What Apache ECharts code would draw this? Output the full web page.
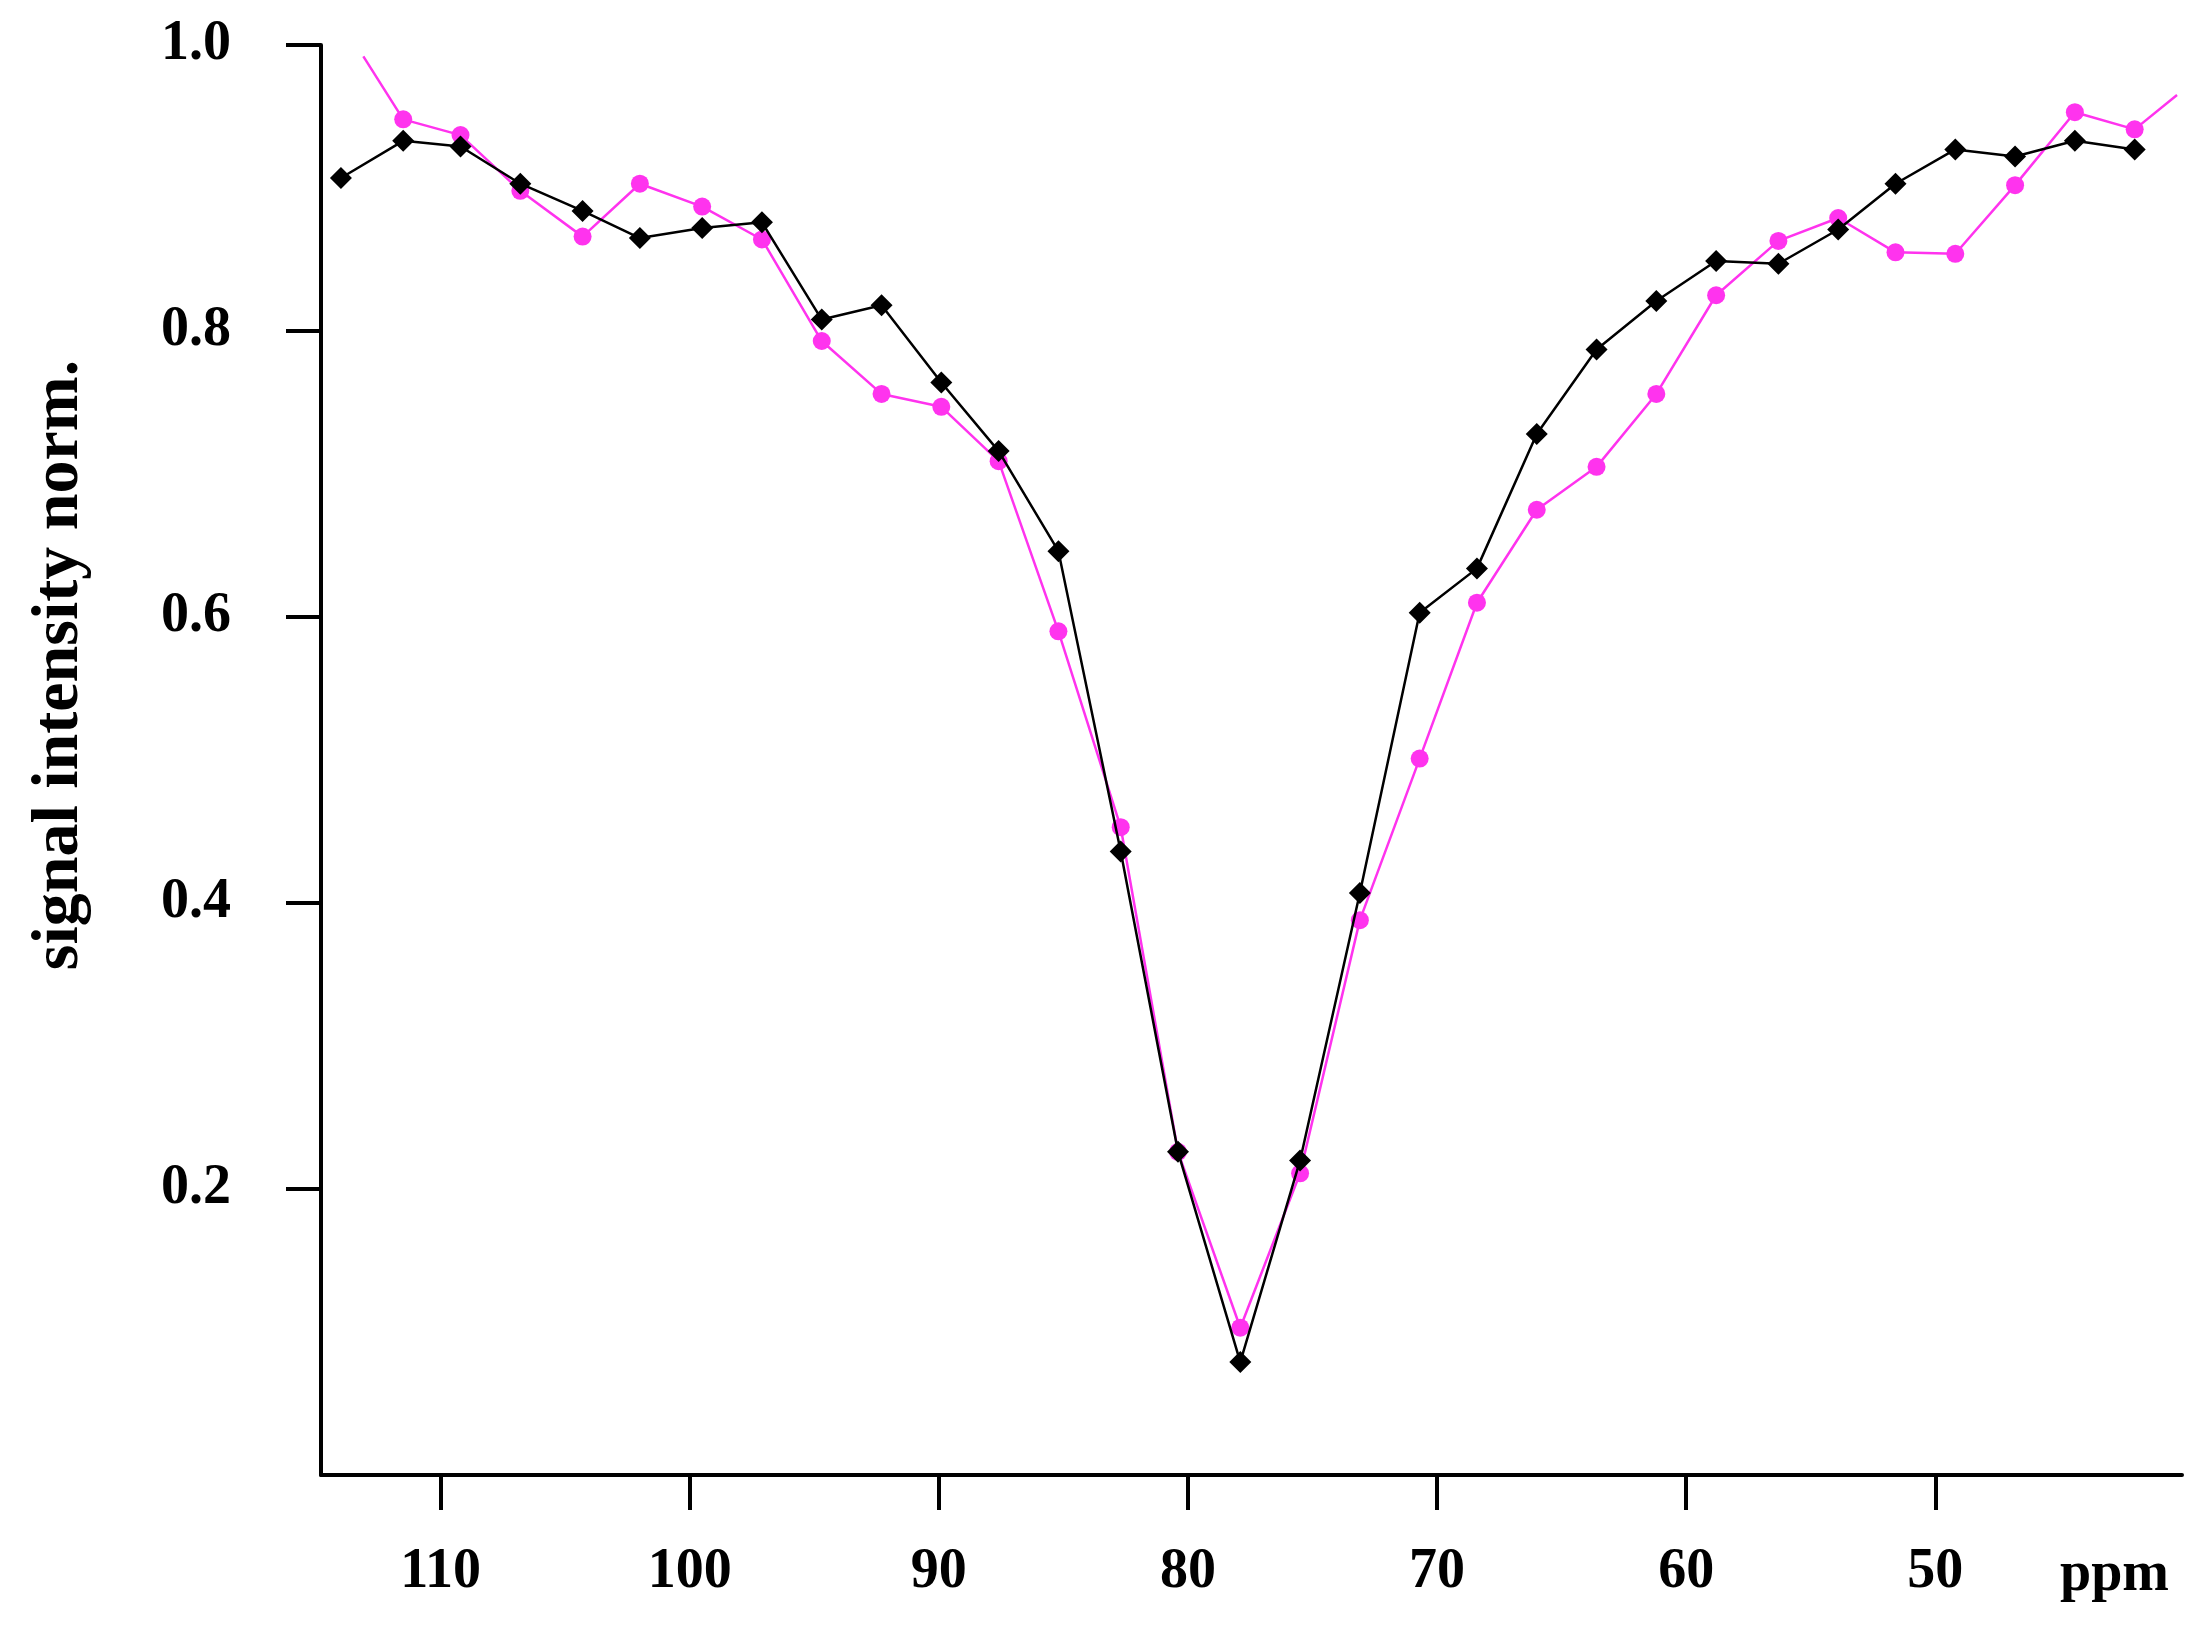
<!DOCTYPE html>
<html><head><meta charset="utf-8">
<script src="https://cdn.jsdelivr.net/npm/echarts@6/dist/echarts.min.js"></script>
<style>html,body{margin:0;padding:0;background:#fff}#c{width:2204px;height:1636px}</style>
</head><body><div id="c"></div>
<script>
const xTicks = [50, 60, 70, 80, 90, 100, 110];
const yTicks = [0.2, 0.4, 0.6, 0.8, 1.0];
const ppmBlack = [114.0,111.5,109.2,106.8,104.3,102.0,99.5,97.1,94.7,92.3,89.9,87.6,85.2,82.7,80.4,77.9,75.5,73.1,70.7,68.4,66.0,63.6,61.2,58.8,56.3,53.9,51.6,49.2,46.8,44.4,42.0];
const intBlack = [0.907,0.933,0.929,0.903,0.884,0.865,0.872,0.876,0.808,0.818,0.764,0.716,0.646,0.436,0.226,0.079,0.220,0.407,0.603,0.634,0.728,0.787,0.821,0.849,0.847,0.871,0.903,0.927,0.922,0.933,0.927];
const ppmMag = [113.1,111.5,109.2,106.8,104.3,102.0,99.5,97.1,94.7,92.3,89.9,87.6,85.2,82.7,80.4,77.9,75.5,73.1,70.7,68.4,66.0,63.6,61.2,58.8,56.3,53.9,51.6,49.2,46.8,44.4,42.0,40.3];
const intMag = [0.992,0.948,0.937,0.898,0.866,0.903,0.887,0.864,0.793,0.756,0.747,0.709,0.590,0.453,0.226,0.103,0.211,0.388,0.501,0.610,0.675,0.705,0.756,0.825,0.863,0.879,0.855,0.854,0.902,0.953,0.941,0.965];

const font = '"Liberation Serif", "DejaVu Serif", serif';
const chart = echarts.init(document.getElementById('c'));
const bl = ppmBlack.map((x,i)=>[x,intBlack[i]]);
const mg = ppmMag.map((x,i)=>({value:[x,intMag[i]], symbolSize:(i===0||i===ppmMag.length-1)?0:18}));
chart.setOption({
  animation:false,
  grid:{left:321,top:45,right:22,bottom:1636-1475},
  xAxis:{type:'value',inverse:true,min:40.1,max:114.8,
    axisLine:{onZero:false,lineStyle:{color:'#000',width:4}},
    axisTick:{show:true,length:35,lineStyle:{color:'#000',width:4},customValues:xTicks},
    axisLabel:{customValues:xTicks,margin:70,fontFamily:font,fontWeight:'bold',fontSize:56,color:'#000'},
    splitLine:{show:false}},
  yAxis:{type:'value',min:0,max:1.0,
    axisLine:{show:true,lineStyle:{color:'#000',width:4}},
    axisTick:{show:true,length:35,lineStyle:{color:'#000',width:4},customValues:yTicks},
    axisLabel:{customValues:yTicks,margin:90,fontFamily:font,fontWeight:'bold',fontSize:56,color:'#000',formatter:v=>v.toFixed(1)},
    splitLine:{show:false}},
  graphic:[
    {type:'text',left:2060,top:1548,style:{text:'ppm',font:'bold 56px '+font,fill:'#000'}},
    {type:'text',x:60,y:665,rotation:Math.PI/2,style:{text:'signal intensity norm.',font:'bold 66px '+font,fill:'#000',align:'center',verticalAlign:'middle'}}
  ],
  series:[
    {type:'line',data:bl,symbol:'diamond',symbolSize:22,lineStyle:{color:'#000',width:2.5},itemStyle:{color:'#000'},z:3},
    {type:'line',data:mg,symbol:'circle',lineStyle:{color:'#ff33ee',width:2.5},itemStyle:{color:'#ff33ee'},z:2}
  ]
});
</script></body></html>
